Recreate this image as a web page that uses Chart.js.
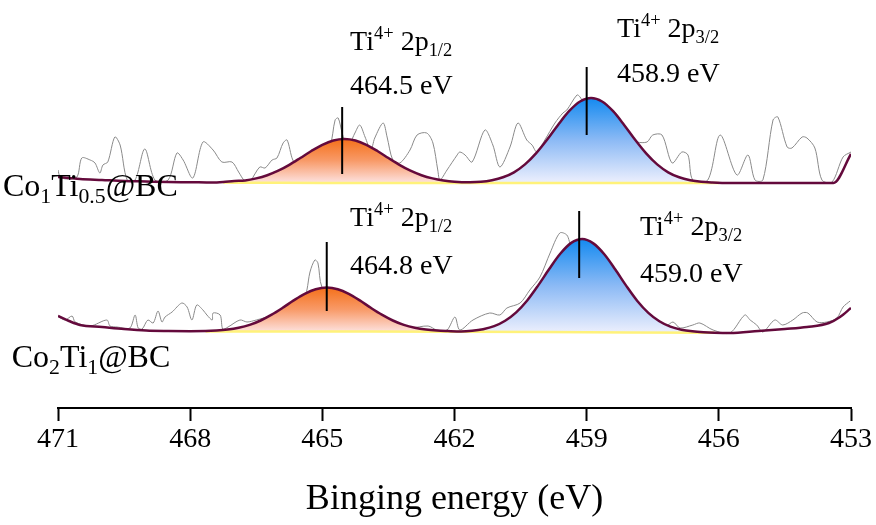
<!DOCTYPE html>
<html><head><meta charset="utf-8">
<script src="https://cdn.jsdelivr.net/npm/chart.js@4.4.1/dist/chart.umd.min.js"></script>
<style>html,body{margin:0;padding:0;background:#fff;} #wrap{width:876px;height:525px;}</style>
</head><body><div id="wrap"><canvas id="c" width="876" height="525"></canvas></div>
<script>
// ---------- DATA (binding energy eV, intensity a.u.) ----------
const xTicks = [471, 468, 465, 462, 459, 456, 453];
const axisTitle = 'Binging energy (eV)';

// Co1Ti0.5@BC (upper spectrum) raw signal
const topRaw = [[471.00,238],[470.95,231],[470.80,229],[470.57,231],[470.46,250],[470.27,248],[470.16,245],[470.05,235],[469.98,243],[469.87,246],[469.71,271],[469.59,263],[469.43,228],[469.25,228],[469.03,259],[468.80,228],[468.50,228],[468.30,255],[468.16,248],[467.94,230],[467.71,266],[467.48,258],[467.28,246],[467.05,246],[466.90,236],[466.76,227],[466.64,227],[466.42,241],[466.30,240],[466.14,248],[466.03,250],[465.89,265],[465.80,268],[465.67,248],[465.51,240],[465.28,245],[465.05,255],[464.83,262],[464.71,288],[464.64,290],[464.55,275],[464.45,262],[464.37,265],[464.26,275],[464.15,283],[464.03,271],[463.90,258],[463.81,270],[463.62,285],[463.53,271],[463.40,248],[463.24,245],[463.01,258],[462.85,273],[462.63,275],[462.49,265],[462.38,238],[462.33,228],[462.17,238],[461.94,253],[461.88,256],[461.76,253],[461.60,246],[461.31,278],[461.13,263],[460.97,241],[460.74,261],[460.56,285],[460.36,268],[460.24,263],[460.13,256],[459.95,268],[459.72,285],[459.54,295],[459.45,298],[459.22,313],[459.15,311],[458.99,300],[458.81,305],[458.59,300],[458.36,296],[458.24,285],[458.02,270],[457.86,266],[457.63,266],[457.50,273],[457.29,273],[457.06,245],[456.84,256],[456.70,253],[456.59,228],[456.25,228],[455.97,273],[455.59,233],[455.34,253],[455.18,228],[455.00,228],[454.77,288],[454.66,291],[454.45,261],[454.34,260],[454.11,271],[454.00,270],[453.82,260],[453.66,228],[453.43,226],[453.18,251],[453.00,256]];
// upper spectrum fitted envelope
const topFit = [[471,231],[470.75,230],[470.5,229],[470,228],[469.5,227],[469,226.5],[468.5,226],[468,225.8],[467.5,225.5],[467.25,226],[467,227],[466.75,227.5],[466.5,229.6],[466.25,232.8],[466,237.3],[465.75,243.2],[465.5,250],[465.25,257],[465,263.2],[464.75,267.5],[464.5,269],[464.25,267.5],[464,263.2],[463.75,257],[463.5,250],[463.25,243.2],[463,237.3],[462.75,232.8],[462.5,229.6],[462.25,227.5],[462,226.3],[461.65,225.8],[461.4,226.2],[461.15,227.8],[460.9,230.7],[460.65,235.7],[460.4,243.6],[460.15,254.6],[459.9,268.2],[459.65,283.1],[459.4,296.8],[459.15,306.5],[458.9,310],[458.65,306.5],[458.4,296.8],[458.15,283.1],[457.9,268.2],[457.65,254.6],[457.4,243.6],[457.15,235.7],[456.9,230.7],[456.65,227.8],[456.4,226.2],[456.15,225.5],[455.75,225],[455,225],[454,225],[453.4,225],[453,254]];
// upper spectrum background
const topBase = [[471,231],[470.5,229],[470,228],[469.5,227],[469,226.5],[468.5,226],[468,225.8],[467.5,225.5],[467.25,225.4],[467,225.3],[466,225.2],[465,225],[461.65,225],[459,225],[456,225],[455,225],[453.4,225],[453,254]];

// Co2Ti1@BC (lower spectrum) raw signal
const botRaw = [[471.02,92],[470.84,88],[470.68,92],[470.61,86],[470.27,82],[469.89,88],[469.82,82],[469.66,81],[469.37,80],[469.25,93],[469.18,80],[469.09,79],[468.96,88],[468.84,85],[468.73,97],[468.64,86],[468.57,91],[468.41,96],[468.19,105],[468.07,101],[467.96,88],[467.85,103],[467.71,98],[467.62,93],[467.50,88],[467.48,95],[467.32,93],[467.26,79],[467.14,81],[466.87,88],[466.71,86],[466.50,88],[466.20,92],[465.90,98],[465.60,104],[465.40,112],[465.35,118],[465.28,136],[465.17,148],[465.10,145],[465.01,121],[464.80,116],[464.50,110],[464.20,100],[463.90,92],[463.60,86],[463.30,82],[463.00,80],[462.60,82],[462.40,78],[462.17,78],[461.99,91],[461.88,78],[461.58,88],[461.20,95],[460.97,93],[460.81,100],[460.51,105],[460.29,118],[460.06,131],[459.83,155],[459.61,175],[459.45,173],[459.33,161],[459.00,160],[458.70,150],[458.40,130],[458.10,110],[457.80,95],[457.50,85],[457.20,82],[457.04,86],[456.88,80],[456.59,83],[456.43,85],[456.13,78],[455.75,75],[455.41,93],[455.29,88],[455.14,83],[455.00,76],[454.73,88],[454.55,83],[454.32,88],[454.11,95],[453.98,95],[453.77,86],[453.55,86],[453.32,90],[453.18,101],[453.02,107]];
// lower spectrum fitted envelope
const botFit = [[471,92],[470.75,87],[470.5,83],[470,81],[469.5,79],[469,77.5],[468.5,77],[468,76.8],[467.65,76.9],[467.4,77.4],[467.15,78.4],[466.9,80.2],[466.65,83.1],[466.4,87.5],[466.15,93.3],[465.9,100.2],[465.65,107.6],[465.4,114.2],[465.15,118.8],[464.9,120.5],[464.65,118.8],[464.4,114.2],[464.15,107.6],[463.9,100.2],[463.65,93.3],[463.4,87.5],[463.15,83.1],[462.9,80.2],[462.65,78.4],[462.4,77.4],[462.15,76.9],[461.85,76.5],[461.6,77.2],[461.35,78.8],[461.1,81.8],[460.85,87.2],[460.6,95.6],[460.35,107.5],[460.1,122.6],[459.85,139],[459.6,154.2],[459.35,165.1],[459.1,169],[458.85,164.6],[458.6,153.7],[458.35,138.5],[458.1,122.1],[457.85,107],[457.6,95.1],[457.35,86.7],[457.1,81.3],[456.85,78.3],[456.6,76.7],[456.35,75.8],[456.1,75.3],[455.75,75],[455.1,77],[454.5,79],[454,81],[453.5,85],[453.25,91],[453,100]];
// lower spectrum background
const botBase = [[471,92],[470.75,87],[470.5,83],[470,81],[469.5,79],[469,77.5],[468.5,77],[468,76.8],[467.65,76.6],[467,76.5],[466,76.5],[464,76.5],[462,76.2],[461.85,76.2],[460,76],[458,75.5],[456.1,75.2],[455.75,75],[455.1,77],[454.5,79],[454,81],[453.5,85],[453.25,91],[453,100]];

// peak component ranges (eV)
const topOrangeRange = [467.25, 461.65], topBlueRange = [461.65, 456.0];
const botOrangeRange = [467.65, 461.85], botBlueRange = [461.85, 456.1];

// peak position markers: [eV, low, high]
const peakMarkers = [[464.55, 234, 301], [459.0, 273, 341], [464.9, 97, 166], [459.17, 130, 197]];

// text annotations: anchor [eV, intensity]
const peakLabels = [
  {at:[464.37, 358], parts:[['Ti'],['4+','sup'],[' 2p'],['1/2','sub']]},
  {at:[464.37, 314], parts:[['464.5 eV']]},
  {at:[458.31, 371], parts:[['Ti'],['4+','sup'],[' 2p'],['3/2','sub']]},
  {at:[458.31, 326], parts:[['458.9 eV']]},
  {at:[464.37, 182], parts:[['Ti'],['4+','sup'],[' 2p'],['1/2','sub']]},
  {at:[464.37, 134], parts:[['464.8 eV']]},
  {at:[457.79, 173], parts:[['Ti'],['4+','sup'],[' 2p'],['3/2','sub']]},
  {at:[457.79, 126], parts:[['459.0 eV']]}
];
const sampleLabels = [
  {at:[472.25, 212], parts:[['Co'],['1','sub'],['Ti'],['0.5','sub'],['@BC']]},
  {at:[472.05, 41], parts:[['Co'],['2','sub'],['Ti'],['1','sub'],['@BC']]}
];

// ---------- CHART ----------
const pts = a => a.map(([x, y]) => ({x, y}));
const within = (a, r) => a.filter(([x]) => x <= r[0] + 1e-9 && x >= r[1] - 1e-9);
const FONT = '"Liberation Serif", "Times New Roman", serif';

function gradFill(arr, stops) {
  const hi = Math.max(...arr.map(p => p[1])), lo = Math.min(...arr.map(p => p[1]));
  return (ctx) => {
    const ch = ctx.chart;
    if (!ch.chartArea) return stops[0];
    const ys = ch.scales.y;
    const g = ch.ctx.createLinearGradient(0, ys.getPixelForValue(hi), 0, ys.getPixelForValue(lo));
    g.addColorStop(0, stops[0]); g.addColorStop(0.5, stops[1]); g.addColorStop(1, stops[2]);
    return g;
  };
}
const ORANGE = ['#f5701a', '#f89a68', '#fde0dc'];
const BLUE = ['#148af0', '#8cbaf5', '#eceffd'];

const topO = within(topFit, topOrangeRange), topB = within(topFit, topBlueRange);
const botO = within(botFit, botOrangeRange), botB = within(botFit, botBlueRange);

const smooth = {cubicInterpolationMode: 'monotone'};
const datasets = [
  {data: pts(within(topBase, [topOrangeRange[0], topBlueRange[1]])), borderColor: '#fff27a', borderWidth: 2.5, fill: false, order: 2},
  {data: pts(within(botBase, [botOrangeRange[0], botBlueRange[1]])), borderColor: '#fff27a', borderWidth: 2.5, fill: false, order: 2},
  {data: pts(topO), borderWidth: 0, borderColor: 'rgba(0,0,0,0)', fill: 0, backgroundColor: gradFill(topO, ORANGE), order: 3, ...smooth},
  {data: pts(topB), borderWidth: 0, borderColor: 'rgba(0,0,0,0)', fill: 0, backgroundColor: gradFill(topB, BLUE), order: 3, ...smooth},
  {data: pts(botO), borderWidth: 0, borderColor: 'rgba(0,0,0,0)', fill: 1, backgroundColor: gradFill(botO, ORANGE), order: 3, ...smooth},
  {data: pts(botB), borderWidth: 0, borderColor: 'rgba(0,0,0,0)', fill: 1, backgroundColor: gradFill(botB, BLUE), order: 3, ...smooth},
  {data: pts(topFit), borderColor: '#640a3c', borderWidth: 2.5, fill: false, order: 1, ...smooth},
  {data: pts(botFit), borderColor: '#640a3c', borderWidth: 2.5, fill: false, order: 1, ...smooth},
  {data: pts(topRaw), borderColor: '#8a8a8a', borderWidth: 1, fill: false, order: 4, tension: 0.3},
  {data: pts(botRaw), borderColor: '#8a8a8a', borderWidth: 1, fill: false, order: 4, tension: 0.3},
  ...peakMarkers.map(([e, lo, hi]) => ({data: [{x: e, y: lo}, {x: e, y: hi}], borderColor: '#000', borderWidth: 2, fill: false, order: 0}))
];

function drawRich(ctx, x, y, parts, size, subRatio) {
  let cx = x;
  for (const [t, kind] of parts) {
    const s = kind ? size * subRatio : size;
    const dy = kind === 'sub' ? size * 0.22 : kind === 'sup' ? -size * 0.38 : 0;
    ctx.font = `${s}px ${FONT}`;
    ctx.fillText(t, cx, y + dy);
    cx += ctx.measureText(t).width;
  }
}

const textPlugin = {
  id: 'texts',
  afterDraw(chart) {
    const {ctx, scales: {x, y}} = chart;
    ctx.save();
    ctx.fillStyle = '#000';
    ctx.textBaseline = 'alphabetic';
    ctx.textAlign = 'left';
    for (const l of peakLabels) drawRich(ctx, x.getPixelForValue(l.at[0]), y.getPixelForValue(l.at[1]), l.parts, 28, 0.66);
    for (const l of sampleLabels) drawRich(ctx, x.getPixelForValue(l.at[0]), y.getPixelForValue(l.at[1]), l.parts, 32, 0.68);
    ctx.restore();
  }
};

new Chart(document.getElementById('c'), {
  type: 'line',
  data: {datasets},
  plugins: [textPlugin],
  options: {
    responsive: false, animation: false, devicePixelRatio: 1,
    layout: {padding: {left: 58, right: 25, top: 0, bottom: 0}},
    elements: {point: {radius: 0, hoverRadius: 0}, line: {tension: 0}},
    plugins: {legend: {display: false}, tooltip: {enabled: false}},
    scales: {
      x: {
        type: 'linear', reverse: true, min: 453, max: 471,
        afterBuildTicks: s => { s.ticks = xTicks.map(v => ({value: v})); },
        afterFit: s => { s.height = 117; },
        grid: {drawOnChartArea: false, drawTicks: true, tickLength: 13, tickWidth: 2, tickColor: '#000'},
        border: {display: true, color: '#000', width: 2},
        ticks: {font: {family: FONT, size: 28}, color: '#000', padding: 2, maxRotation: 0, autoSkip: false},
        title: {display: true, text: axisTitle, color: '#000', font: {family: FONT, size: 36}, padding: {top: 0, bottom: 4}}
      },
      y: {display: false, min: 0, max: 408}
    }
  }
});
</script></body></html>
